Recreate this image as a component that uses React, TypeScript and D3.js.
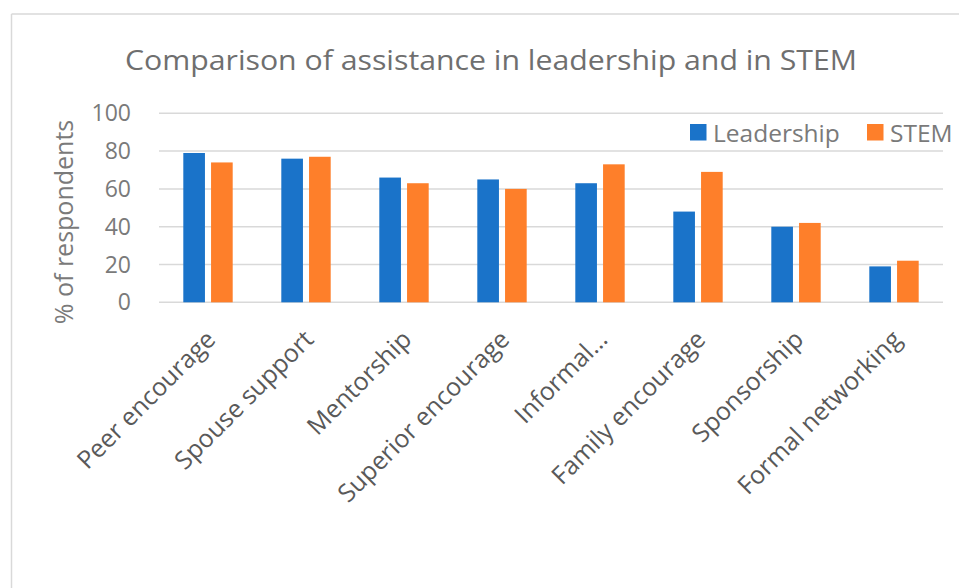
import React from "react";
import * as d3 from "d3";

const categories = [
  "Peer encourage",
  "Spouse support",
  "Mentorship",
  "Superior encourage",
  "Informal…",
  "Family encourage",
  "Sponsorship",
  "Formal networking",
];
const seriesNames = ["Leadership", "STEM"];
const leadership = [79, 76, 66, 65, 63, 48, 40, 19];
const stem = [74, 77, 63, 60, 73, 69, 42, 22];
const yTicks = [0, 20, 40, 60, 80, 100];
const colors = ["#1a73c9", "#fe7f2a"];

const W = 959;
const H = 588;
const FONT = "'Open Sans', 'Noto Sans', sans-serif";

export default function App() {
  const plotLeft = 159;
  const plotRight = 943;
  const y = d3.scaleLinear().domain([0, 100]).range([302.3, 113.3]);
  const x0 = d3.scaleBand<string>().domain(categories).range([plotLeft, plotRight]).paddingInner(0).paddingOuter(0);
  const bw = x0.bandwidth();
  const x1 = d3
    .scaleBand<string>()
    .domain(seriesNames)
    .range([bw * 0.248, bw * 0.752])
    .paddingInner(0.22)
    .paddingOuter(0);
  const values = [leadership, stem];

  return (
    <svg
      width={W}
      height={H}
      style={{ position: "absolute", left: 0, top: 0, background: "#fff" }}
      fontFamily={FONT}
    >
      <rect x={0} y={0} width={W} height={H} fill="#fff" />
      {/* chart border */}
      <line x1={11.5} y1={14} x2={11.5} y2={H} stroke="#d9d9d9" strokeWidth={1.5} />
      <line x1={11.5} y1={14} x2={W} y2={14} stroke="#d9d9d9" strokeWidth={1.5} />

      {/* title */}
      <text x={491} y={70} textAnchor="middle" fontSize={28} fill="#6f6f6f" textLength={732} lengthAdjust="spacingAndGlyphs">
        Comparison of assistance in leadership and in STEM
      </text>

      {/* gridlines */}
      {yTicks.map((t) => (
        <line key={t} x1={plotLeft} x2={plotRight} y1={y(t)} y2={y(t)} stroke="#d9d9d9" strokeWidth={1.5} />
      ))}

      {/* y tick labels */}
      {yTicks.map((t) => (
        <text key={"yl" + t} x={131} y={y(t)} dy="0.35em" textAnchor="end" fontSize={23} fill="#7a7a7a">
          {t}
        </text>
      ))}

      {/* y axis title */}
      <text
        transform={`translate(${73},${222}) rotate(-90)`}
        textAnchor="middle"
        fontSize={25}
        fill="#7a7a7a"
      >
        % of respondents
      </text>

      {/* bars */}
      {categories.map((c, i) => (
        <g key={c} transform={`translate(${x0(c)},0)`}>
          {seriesNames.map((s, j) => (
            <rect
              key={s}
              x={x1(s)}
              y={y(values[j][i])}
              width={x1.bandwidth()}
              height={y(0) - y(values[j][i])}
              fill={colors[j]}
            />
          ))}
        </g>
      ))}

      {/* x labels */}
      {categories.map((c) => {
        const cx = (x0(c) as number) + bw / 2;
        return (
          <text
            key={"xl" + c}
            transform={`translate(${cx + 9},${341}) rotate(-45)`}
            textAnchor="end"
            fontSize={25}
            fill="#595959"
          >
            {c}
          </text>
        );
      })}

      {/* legend */}
      {seriesNames.map((s, j) => {
        const lx = j === 0 ? 690 : 867;
        return (
          <g key={"lg" + s}>
            <rect x={lx} y={124} width={16.5} height={16.5} fill={colors[j]} />
            <text x={lx + 23} y={142} fontSize={24.5} fill="#7a7a7a">
              {s}
            </text>
          </g>
        );
      })}
    </svg>
  );
}
